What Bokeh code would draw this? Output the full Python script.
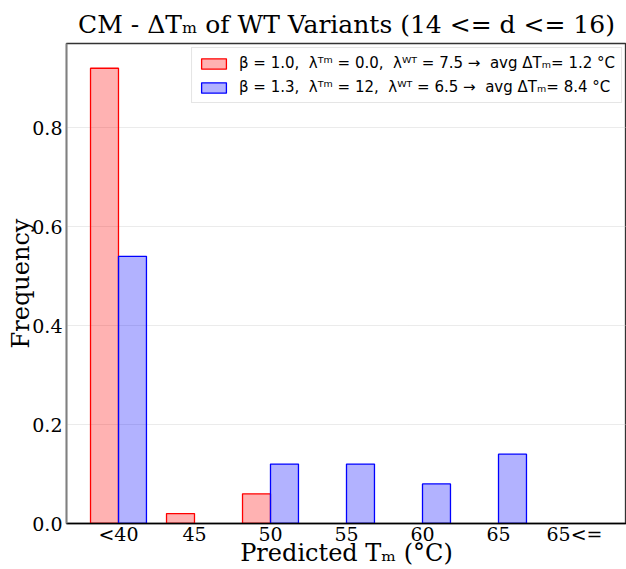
from bokeh.plotting import figure
from bokeh.models import ColumnDataSource, FixedTicker, Range1d, Legend, LegendItem
from bokeh.transform import dodge
from bokeh.embed import file_html
from bokeh.resources import INLINE

categories = ["<40", "45", "50", "55", "60", "65", "65<="]
positions = [0, 1, 2, 3, 4, 5, 6]
freq_a = [0.92, 0.02, 0.06, 0.0, 0.0, 0.0, 0.0]
freq_b = [0.54, 0.0, 0.12, 0.12, 0.08, 0.14, 0.0]
label_a = "β = 1.0,  λᵀᵐ = 0.0,  λᵂᵀ = 7.5 →  avg ΔTₘ= 1.2 °C"
label_b = "β = 1.3,  λᵀᵐ = 12,  λᵂᵀ = 6.5 →  avg ΔTₘ= 8.4 °C"
title_text = "CM - ΔTₘ of WT Variants (14 <= d <= 16)"
yticks = [0.0, 0.2, 0.4, 0.6, 0.8]


def nonzero(vals):
    keep = [i for i, v in enumerate(vals) if v > 0]
    return ColumnDataSource(dict(pos=[positions[i] for i in keep], v=[vals[i] for i in keep]))


src_a = nonzero(freq_a)
src_b = nonzero(freq_b)

p = figure(width=626, height=569, output_backend="svg", toolbar_location=None,
           x_range=Range1d(-0.684, 6.684), y_range=Range1d(0, 0.97),
           min_border_left=66, min_border_top=43, min_border_bottom=46, min_border_right=0)

bw = 0.368
ra = p.vbar(x=dodge("pos", -bw / 2), top="v", width=bw, source=src_a,
            fill_color="red", fill_alpha=0.3, line_color="red", line_width=1.3)
rb = p.vbar(x=dodge("pos", bw / 2), top="v", width=bw, source=src_b,
            fill_color="blue", fill_alpha=0.3, line_color="blue", line_width=1.3)

serif = "DejaVu Serif"
p.title.text = title_text
p.title.text_font = serif
p.title.text_font_size = "25px"
p.title.text_font_style = "normal"
p.title.align = "center"
p.title.text_color = "black"
p.title.standoff = 9

p.xaxis.ticker = FixedTicker(ticks=positions)
p.xaxis.major_label_overrides = {i: c for i, c in zip(positions, categories)}
p.yaxis.ticker = FixedTicker(ticks=yticks)
p.yaxis.major_label_overrides = {v: f"{v:.1f}" for v in yticks}

for ax in (p.xaxis[0], p.yaxis[0]):
    ax.major_label_text_font = serif
    ax.major_label_text_font_size = "19px"
    ax.major_label_text_color = "black"
    ax.axis_label_text_font = serif
    ax.axis_label_text_font_size = "24px"
    ax.axis_label_text_font_style = "normal"
    ax.axis_label_text_color = "black"
    ax.minor_tick_line_color = None
    ax.major_tick_line_color = None
    ax.major_tick_in = 0
    ax.major_tick_out = 0

p.xaxis.major_label_standoff = -1
p.xaxis.axis_label_standoff = -9
p.yaxis.major_label_standoff = 4
p.yaxis.axis_label_standoff = -6

p.xaxis.axis_label = "Predicted Tₘ (°C)"
p.yaxis.axis_label = "Frequency"
p.xaxis.axis_line_color = "black"
p.xaxis.axis_line_width = 1.5
p.yaxis.axis_line_color = "gray"
p.yaxis.axis_line_width = 1.8

p.xgrid.grid_line_color = None
p.ygrid.grid_line_color = "#cccccc"
p.ygrid.grid_line_dash = "1 1"
p.ygrid.grid_line_width = 0.8

p.outline_line_color = "#333333"
p.outline_line_width = 1.3

legend = Legend(items=[LegendItem(label=label_a, renderers=[ra]),
                       LegendItem(label=label_b, renderers=[rb])],
                location="top_right")
legend.label_text_font = "DejaVu Sans"
legend.label_text_font_size = "15px"
legend.label_text_color = "black"
legend.glyph_width = 31
legend.glyph_height = 13
legend.label_height = 18
legend.label_standoff = 10
legend.spacing = 6
legend.padding = 6
legend.margin = 4
legend.border_line_color = "#cccccc"
legend.background_fill_alpha = 1.0
p.add_layout(legend)

open("out.html", "w").write(file_html(p, INLINE))
